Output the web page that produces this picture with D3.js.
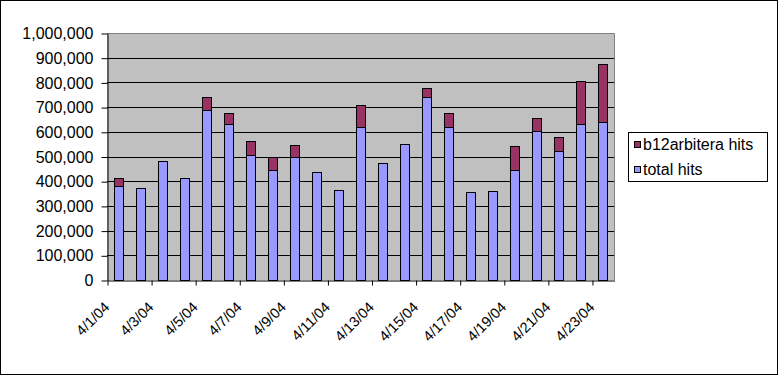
<!DOCTYPE html>
<html>
<head>
<meta charset="utf-8">
<script src="https://cdn.jsdelivr.net/npm/d3@7"></script>
<style>
  body { margin: 0; background: #fff; }
  svg { display: block; font-family: "Liberation Sans", Arial, sans-serif; }
</style>
</head>
<body>
<svg width="779" height="376"></svg>
<script>
// data
const dates = ["4/1/04", "4/2/04", "4/3/04", "4/4/04", "4/5/04", "4/6/04", "4/7/04", "4/8/04",
  "4/9/04", "4/10/04", "4/11/04", "4/12/04", "4/13/04", "4/14/04", "4/15/04", "4/16/04",
  "4/17/04", "4/18/04", "4/19/04", "4/20/04", "4/21/04", "4/22/04", "4/23/04"];
const totalHits = [382000, 374000, 480000, 411000, 687000, 630000, 508000, 447000,
  496000, 439000, 366000, 618000, 472000, 549000, 740000, 618000,
  358000, 362000, 447000, 602000, 524000, 630000, 638000];
const b12Hits = [29000, 0, 0, 0, 53000, 45000, 53000, 53000,
  49000, 0, 0, 89000, 0, 0, 36000, 57000,
  0, 0, 94000, 52000, 53000, 175000, 236000];
const yTicks = [0, 100000, 200000, 300000, 400000, 500000, 600000, 700000, 800000, 900000, 1000000];
const seriesNames = ["total hits", "b12arbitera hits"];
const seriesColors = ["#9999FF", "#993366"];

const plot = {left: 107, right: 614, top: 33, bottom: 280};

const svg = d3.select("svg");

// outer chart border
svg.append("rect")
  .attr("x", 0.5).attr("y", 0.5)
  .attr("width", 777).attr("height", 374)
  .attr("fill", "#fff").attr("stroke", "#000");

var yScale = d3.scaleLinear()
  .domain([0, 1000000])
  .range([plot.bottom, plot.top]);

var xBand = d3.scaleBand()
  .domain(dates)
  .range([plot.left, plot.right]);

// boundary scale for the category ticks
var xEdge = d3.scaleLinear()
  .domain([0, dates.length])
  .range([plot.left, plot.right]);

// plot area
svg.append("rect")
  .attr("x", plot.left).attr("y", plot.top)
  .attr("width", plot.right - plot.left).attr("height", plot.bottom - plot.top)
  .attr("fill", "#C0C0C0");

// gridlines (top one is the gray border)
svg.append("g")
  .selectAll("line")
  .data(yTicks.slice(1, -1))
  .enter().append("line")
    .attr("x1", plot.left).attr("x2", plot.right + 1)
    .attr("y1", d => Math.round(yScale(d)) + 0.5)
    .attr("y2", d => Math.round(yScale(d)) + 0.5)
    .attr("stroke", "#000");

// gray top/right border
svg.append("path")
  .attr("d", `M${plot.left},${plot.top + 0.5}H${plot.right + 0.5}V${plot.bottom}`)
  .attr("fill", "none")
  .attr("stroke", "#808080");

// stacked bars
var rows = dates.map((d, i) => ({date: d, total: totalHits[i], b12: b12Hits[i]}));
var stacked = d3.stack().keys(["total", "b12"])(rows);
var barW = 9;

svg.append("g")
  .selectAll("g")
  .data(stacked)
  .enter().append("g")
    .attr("fill", (s, i) => seriesColors[i])
  .selectAll("rect")
  .data(s => s.filter(p => p[1] > p[0]))
  .enter().append("rect")
    .attr("x", p => Math.round(xBand(p.data.date) + (xBand.bandwidth() - barW) / 2) + 0.5)
    .attr("width", barW)
    .attr("y", p => Math.round(yScale(p[1])) + 0.5)
    .attr("height", p => Math.round(yScale(p[0])) - Math.round(yScale(p[1])))
    .attr("stroke", "#000");

// y axis
var yAxis = svg.append("g")
  .attr("transform", `translate(${plot.left + 0.5}, 0.5)`)
  .call(d3.axisLeft(yScale)
    .tickValues(yTicks)
    .tickFormat(d3.format(","))
    .tickSize(6)
    .tickSizeOuter(0)
    .tickPadding(8));
yAxis.selectAll("text").attr("font-size", 16).attr("font-family", "Liberation Sans, Arial, sans-serif").attr("fill", "#000");
yAxis.selectAll("line, path").attr("stroke", "#000");

// x axis, ticks every other category edge, labels rotated
var xAxis = svg.append("g")
  .attr("transform", `translate(0.5, ${plot.bottom + 0.5})`)
  .call(d3.axisBottom(xEdge)
    .tickValues(d3.range(0, dates.length, 2))
    .tickFormat(i => dates[i])
    .tickSize(5)
    .tickSizeOuter(0));
xAxis.selectAll("line, path").attr("stroke", "#000");
xAxis.selectAll("text")
  .attr("font-size", 14.5)
  .attr("font-family", "Liberation Sans, Arial, sans-serif")
  .attr("fill", "#000")
  .attr("x", null).attr("y", null).attr("dy", null)
  .attr("text-anchor", "end")
  .attr("transform", "translate(2.5, 27.5) rotate(-45)");

// legend
var legend = svg.append("g");
legend.append("rect")
  .attr("x", 628.5).attr("y", 132.5)
  .attr("width", 139).attr("height", 49)
  .attr("fill", "#fff").attr("stroke", "#000");

var legendItems = [1, 0];
legendItems.forEach((si, k) => {
  legend.append("rect")
    .attr("x", 634.5).attr("y", 141.5 + k * 25)
    .attr("width", 6).attr("height", 6)
    .attr("fill", seriesColors[si]).attr("stroke", "#000");
  legend.append("text")
    .attr("x", 643).attr("y", 150 + k * 25)
    .attr("font-size", 16)
    .attr("fill", "#000")
    .text(seriesNames[si]);
});
</script>
</body>
</html>
